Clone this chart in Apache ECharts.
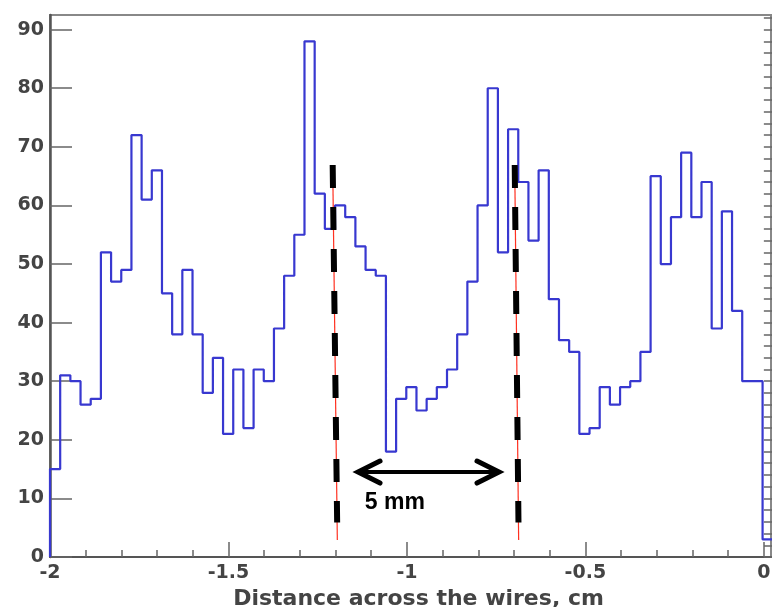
<!DOCTYPE html>
<html><head><meta charset="utf-8">
<script src="https://cdn.jsdelivr.net/npm/echarts@6/dist/echarts.min.js"></script>
<style>html,body{margin:0;padding:0;background:#fff}#c{width:772px;height:607px}</style>
</head><body><div id="c"></div>
<script>
// ---- data ----
const binStart = -2.0;
const binWidth = 0.02852;
const counts = [15,31,30,26,27,52,47,49,72,61,66,45,38,49,38,28,34,21,32,22,
                32,30,39,48,55,88,62,56,60,58,53,49,48,18,27,29,25,27,29,32,
                38,47,60,80,52,73,64,54,66,44,37,35,21,22,29,26,29,30,35,65,
                50,58,69,58,64,39,59,42,30,30,3];
const xTickLabels = [-2, -1.5, -1, -0.5, 0];
const yTickLabels = [0, 10, 20, 30, 40, 50, 60, 70, 80, 90];
const xMinorStep = 0.1;
const yMinorStep = 2;
const xTitle = 'Distance across the wires, cm';
// annotation (data coordinates)
const wireLines = [
  [[-1.208, 66.9], [-1.195, 2.9]],
  [[-0.698, 66.9], [-0.687, 2.9]]
];
const arrowFrom = [-1.137, 14.5];
const arrowTo = [-0.742, 14.5];
const arrowText = '5 mm';
const arrowTextAt = [-1.118, 9.2];

// ---- build ----
const xMin = -2, xMax = 0.02, yMin = 0, yMax = 92.5;
const xMinor = [];
for (let v = xMin; v <= xMax + 1e-9; v += xMinorStep) xMinor.push(+v.toFixed(4));
const yMinor = [];
for (let v = yMin; v <= yMax; v += yMinorStep) yMinor.push(v);

const histPts = [[binStart, 0]];
counts.forEach((c, i) => histPts.push([+(binStart + i * binWidth).toFixed(5), c]));
histPts.push([+(binStart + counts.length * binWidth).toFixed(5), counts[counts.length - 1]]);

const labelFont = {color: '#444', fontFamily: 'DejaVu Sans', fontWeight: 'bold', fontSize: 19};

const chart = echarts.init(document.getElementById('c'), null, {renderer: 'canvas'});
const option = {
  animation: false,
  backgroundColor: '#fff',
  grid: {left: 50, right: 1, top: 15, bottom: 50, show: true, borderColor: '#888', borderWidth: 2,
         containLabel: false, outerBoundsMode: 'none'},
  xAxis: [
    {type: 'value', min: xMin, max: xMax, position: 'bottom',
     axisLine: {show: true, onZero: false, lineStyle: {color: '#555', width: 2}},
     axisTick: {show: true, inside: true, length: 15, customValues: xTickLabels, lineStyle: {color: '#666', width: 1.5}},
     axisLabel: Object.assign({customValues: xTickLabels, margin: 7, formatter: v => String(v)}, labelFont),
     splitLine: {show: false},
     name: xTitle, nameLocation: 'middle', nameGap: 25,
     nameTextStyle: Object.assign({}, labelFont, {fontSize: 22, padding: [0, 0, 0, 16]})},
    {type: 'value', min: xMin, max: xMax, position: 'bottom',
     axisLine: {show: false},
     axisTick: {show: true, inside: true, length: 7, customValues: xMinor, lineStyle: {color: '#666', width: 1.5}},
     axisLabel: {show: false}, splitLine: {show: false}}
  ],
  yAxis: [
    {type: 'value', min: yMin, max: yMax, position: 'left',
     axisLine: {show: true, onZero: false, lineStyle: {color: '#555', width: 2.5}},
     axisTick: {show: true, inside: true, length: 22, customValues: yTickLabels, lineStyle: {color: '#666', width: 1.5}},
     axisLabel: Object.assign({customValues: yTickLabels, margin: 6}, labelFont),
     splitLine: {show: false}},
    {type: 'value', min: yMin, max: yMax, position: 'left',
     axisLine: {show: false},
     axisTick: {show: true, inside: true, length: 10, customValues: yMinor, lineStyle: {color: '#666', width: 1.5}},
     axisLabel: {show: false}, splitLine: {show: false}}
  ],
  series: [{
    type: 'line', xAxisIndex: 0, yAxisIndex: 0, step: 'end', data: histPts,
    showSymbol: false, symbol: 'none', clip: true,
    lineStyle: {color: '#3838d0', width: 2.2}
  }]
};
chart.setOption(option);

const px = p => chart.convertToPixel({seriesIndex: 0}, p);
const g = [];
wireLines.forEach(l => {
  const a = px(l[0]), b = px(l[1]);
  g.push({type: 'polyline', silent: true, z: 10, shape: {points: [a, b]}, style: {stroke: '#ff3020', lineWidth: 1.2, fill: null}});
  g.push({type: 'polyline', silent: true, z: 11, shape: {points: [a, px([l[1][0] - 0.0005, l[1][1] + 3])]},
          style: {stroke: '#000', lineWidth: 6, lineDash: [23, 19], lineCap: 'butt', fill: null}});
});
const A = px(arrowFrom), B = px(arrowTo);
const head = 22, half = 11;
g.push({type: 'polyline', silent: true, z: 12, shape: {points: [[A[0] + 2, A[1]], [B[0] - 2, B[1]]]}, style: {stroke: '#000', lineWidth: 4, fill: null}});
g.push({type: 'polyline', silent: true, z: 12, shape: {points: [[A[0] + head, A[1] - half], A, [A[0] + head, A[1] + half]]},
        style: {stroke: '#000', lineWidth: 5, lineJoin: 'miter', lineCap: 'round', fill: null}});
g.push({type: 'polyline', silent: true, z: 12, shape: {points: [[B[0] - head, B[1] - half], B, [B[0] - head, B[1] + half]]},
        style: {stroke: '#000', lineWidth: 5, lineJoin: 'miter', lineCap: 'round', fill: null}});
const T = px(arrowTextAt);
g.push({type: 'text', silent: true, z: 12, x: T[0], y: T[1],
        style: {text: arrowText, fill: '#000', font: 'bold 23px "Liberation Sans", Arial, sans-serif', align: 'left', verticalAlign: 'middle'}});
chart.setOption({graphic: g});
</script>
</body></html>
